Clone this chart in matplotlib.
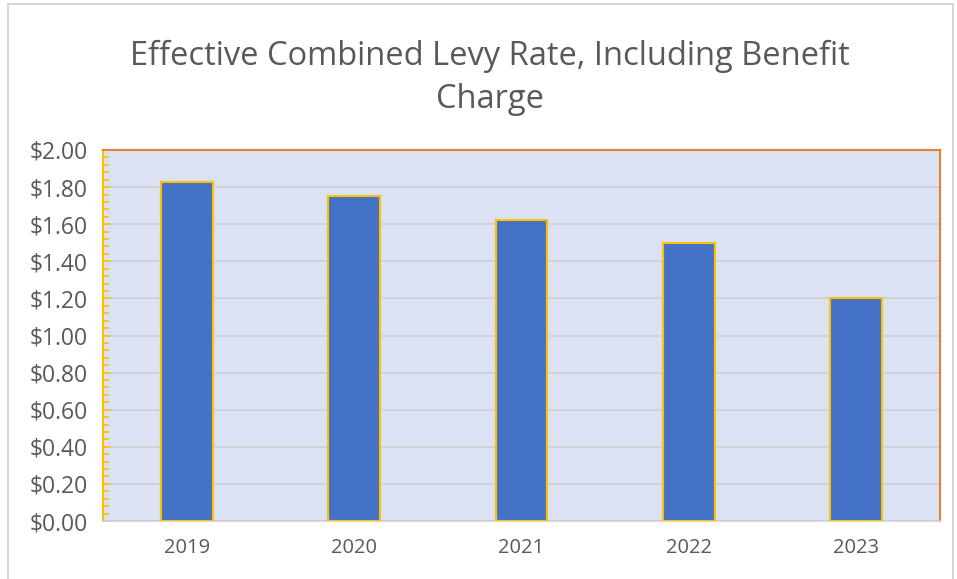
import numpy as np
import matplotlib.pyplot as plt
from matplotlib.ticker import MultipleLocator, FuncFormatter
from matplotlib.patches import Rectangle

years = ["2019", "2020", "2021", "2022", "2023"]
levy_rate = [1.83, 1.75, 1.62, 1.50, 1.20]

plt.rcParams['font.family'] = ['Open Sans', 'DejaVu Sans']

fig = plt.figure(figsize=(9.57, 5.79), dpi=100)
ax = fig.add_axes([103 / 957, 1 - 521 / 579, 837 / 957, 371 / 579])

# marco exterior del grafico
fig.patches.append(Rectangle((8 / 957, -0.01), 945 / 957, 1 - 4 / 579 + 0.01,
                             transform=fig.transFigure, fill=False,
                             edgecolor='#d0d0d0', linewidth=1.2))

x = np.arange(len(years))
ax.set_facecolor('#dae2f3')
ax.bar(x, levy_rate, width=0.31, color='#4472c4', edgecolor='#ffc000',
       linewidth=1.5, zorder=3)

ax.set_xlim(-0.5, len(years) - 0.5)
ax.set_ylim(0, 2.0)
ax.set_xticks(x)
ax.set_xticklabels(years)
ax.yaxis.set_major_locator(MultipleLocator(0.2))
ax.yaxis.set_minor_locator(MultipleLocator(0.04))
ax.yaxis.set_major_formatter(FuncFormatter(lambda v, p: f"${v:.2f}"))
ax.grid(axis='y', color='#cfcfcf', linewidth=1.2, zorder=0)

ax.tick_params(axis='x', length=0, pad=12, labelsize=14.5, labelcolor='#595959')
ax.tick_params(axis='y', which='major', direction='in', length=6, width=1.2,
               color='#ffc000', labelsize=16.5, labelcolor='#595959', pad=11)
ax.tick_params(axis='y', which='minor', direction='in', length=4, width=1.2,
               color='#ffc000')

ax.spines['left'].set_color('#ffc000')
ax.spines['left'].set_linewidth(1.5)
ax.spines['top'].set_color('#ed7d31')
ax.spines['top'].set_linewidth(1.5)
ax.spines['right'].set_color('#ed7d31')
ax.spines['right'].set_linewidth(1.5)
ax.spines['bottom'].set_color('#cfcfcf')
ax.spines['bottom'].set_linewidth(1.2)

fig.text(0.512, 1 - 78 / 579, "Effective Combined Levy Rate, Including Benefit\nCharge",
         ha='center', va='center', fontsize=23.5, color='#595959', linespacing=1.38)

fig.savefig("out.png", dpi=100)
